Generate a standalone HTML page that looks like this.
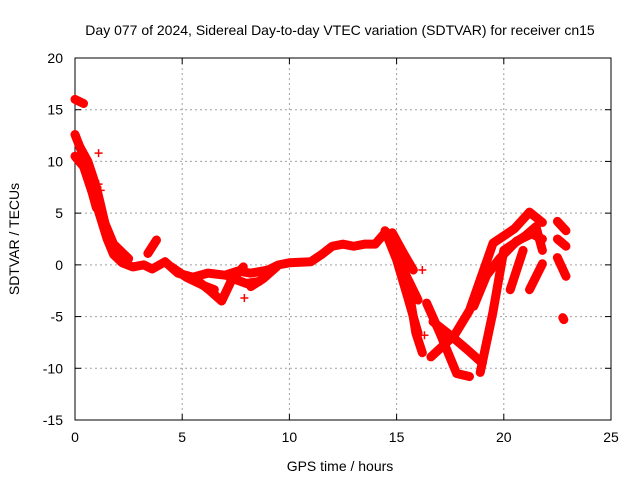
<!DOCTYPE html>
<html><head><meta charset="utf-8"><style>
body{margin:0;background:#fff}
svg text{font-family:"Liberation Sans",sans-serif;font-size:14px;fill:#000}
</style></head><body>
<svg width="640" height="480">
<g id="grid"></g>
<g id="axes"></g>
<g id="series"></g>
<text x="340" y="35" text-anchor="middle">Day 077 of 2024, Sidereal Day-to-day VTEC variation (SDTVAR) for receiver cn15</text>
<text x="340" y="471" text-anchor="middle">GPS time / hours</text>
<text transform="translate(19,239) rotate(-90)" text-anchor="middle">SDTVAR / TECUs</text>
</svg>
<script>
const xTicks=[0,5,10,15,20,25];
const yTicks=[-15,-10,-5,0,5,10,15,20];
const track1=[[0,12.6],[0.3,11],[0.6,9],[0.9,6.5],[1.2,4.5],[1.5,2.5],[1.8,1],[2.2,0.2],[2.7,-0.2],[3.2,0],[3.6,-0.4],[4.2,0.3],[4.8,-0.8],[5.5,-1.2],[6.2,-0.8],[7,-1],[7.6,-0.6],[8.2,-0.8],[9,-0.5],[9.5,0],[10,0.2],[11,0.3],[11.5,1],[12,1.8],[12.5,2],[13,1.8],[13.5,2],[14,2],[14.5,3.2],[15,1.5],[15.5,-1.5],[15.9,-6.6],[16.2,-8.5]];
const track2=[[0,10.5],[0.4,9.5],[0.8,7],[1.0,5.5]];
const track2b=[[0.2,11.5],[0.6,10],[1.0,7.5],[1.4,4],[1.8,2],[2.5,0.6]];
const track3=[[0,16],[0.4,15.6]];
const track4=[[3.4,1.1],[3.8,2.4]];
const track5=[[5.7,-1.5],[6.3,-2.5],[6.84,-3.5],[7.3,-1.5],[7.85,-0.2]];
const track6=[[8.2,-2.1],[8.8,-1.3],[9.4,-0.2]];
const track6b=[[7.2,-1.2],[8,-1.8],[8.6,-1.6]];
const track7=[[4.5,-0.2],[5.2,-1.2],[6,-2],[6.5,-2.4]];
const track8=[[14.46,3.3],[15,0.5],[15.5,-3],[16.0,-6.6]];
const track9=[[14.8,3.1],[15.3,1.2],[15.78,-0.5]];
const track10=[[14.6,2.8],[15.2,0],[16.0,-3.4]];
const track11=[[16.4,-3.7],[17,-6.5],[17.8,-10.5],[18.4,-10.8]];
const track12=[[16.7,-5.5],[17.5,-6.8],[18.3,-8.2],[19.0,-9.5]];
const track13=[[16.6,-8.9],[17.7,-6.8],[18.4,-4.4],[19.5,2.1],[20.5,3.5],[21.2,5.1],[21.8,4.1]];
const track14=[[18.9,-10.4],[19.5,-4.5],[20,1.4],[21,2.8],[21.5,3.7],[21.8,1.4]];
const track15=[[18.6,-4],[19.2,-1],[19.8,0.6],[20.6,2.3],[21.3,3],[21.8,2.5]];
const track16=[[20.3,-2.4],[20.9,1.4]];
const track17=[[21.2,-2.4],[21.8,0.1]];
const track18=[[22.5,4.2],[22.9,3.3]];
const track19=[[22.5,2.5],[22.9,1.8]];
const track20=[[22.5,0.7],[22.9,-1.1]];
const track21=[[22.8,-5.3],[22.75,-5.1]];
const outliers=[[1.1,10.8],[1.1,7.8],[1.2,7.2],[7.9,-3.2],[16.2,-0.5],[16.3,-6.8]];
const allTracks=[track1,track2,track2b,track3,track4,track5,track6,track6b,track7,track8,track9,track10,track11,track12,track13,track14,track15,track16,track17,track18,track19,track20,track21];

const L=75,R=611,T=58,B=420,xMin=0,xMax=25,yMin=-15,yMax=20;
const sx=v=>L+(v-xMin)/(xMax-xMin)*(R-L);
const sy=v=>B-(v-yMin)/(yMax-yMin)*(B-T);
const NS='http://www.w3.org/2000/svg';
function mk(tag,parent,attrs){const e=document.createElementNS(NS,tag);for(const k in attrs)e.setAttribute(k,attrs[k]);parent.appendChild(e);return e;}
const grid=document.getElementById('grid'),axes=document.getElementById('axes'),ser=document.getElementById('series');
xTicks.forEach(t=>{
  const x=sx(t);
  if(t>xMin&&t<xMax){const g=mk('line',grid,{x1:x,x2:x,y1:T,y2:B,stroke:'#a0a0a0','stroke-dasharray':'2,3'});
  
  }
  mk('line',axes,{x1:x,x2:x,y1:B,y2:B-6,stroke:'#000'});
  mk('line',axes,{x1:x,x2:x,y1:T,y2:T+6,stroke:'#000'});
  const tx=mk('text',axes,{x:x,y:B+22,'text-anchor':'middle'});tx.textContent=t;
  
  
});
yTicks.forEach(t=>{
  const y=sy(t);
  if(t>yMin&&t<yMax){const g=mk('line',grid,{x1:L,x2:R,y1:y,y2:y,stroke:'#a0a0a0','stroke-dasharray':'2,3'});
  
  }
  mk('line',axes,{x1:L,x2:L+6,y1:y,y2:y,stroke:'#000'});
  mk('line',axes,{x1:R,x2:R-6,y1:y,y2:y,stroke:'#000'});
  const tx=mk('text',axes,{x:L-12,y:y+5,'text-anchor':'end'});tx.textContent=t;
  
  
});
const fr=mk('rect',axes,{x:L,y:T,width:R-L,height:B-T,fill:'none',stroke:'#000'});


function plus(p){
  const x=sx(p[0]),y=sy(p[1]);
  const e=mk('path',ser,{d:`M${x-4},${y}H${x+4}M${x},${y-4}V${y+4}`,stroke:'#f00','stroke-width':1.5});
  
  
}
allTracks.forEach(tr=>{
  const pl=mk('polyline',ser,{points:tr.map(p=>sx(p[0])+','+sy(p[1])).join(' '),fill:'none',stroke:'#f00','stroke-width':9,'stroke-linejoin':'round','stroke-linecap':'round'});
  
  
  tr.forEach(plus);
});
outliers.forEach(plus);
</script>
</body></html>
